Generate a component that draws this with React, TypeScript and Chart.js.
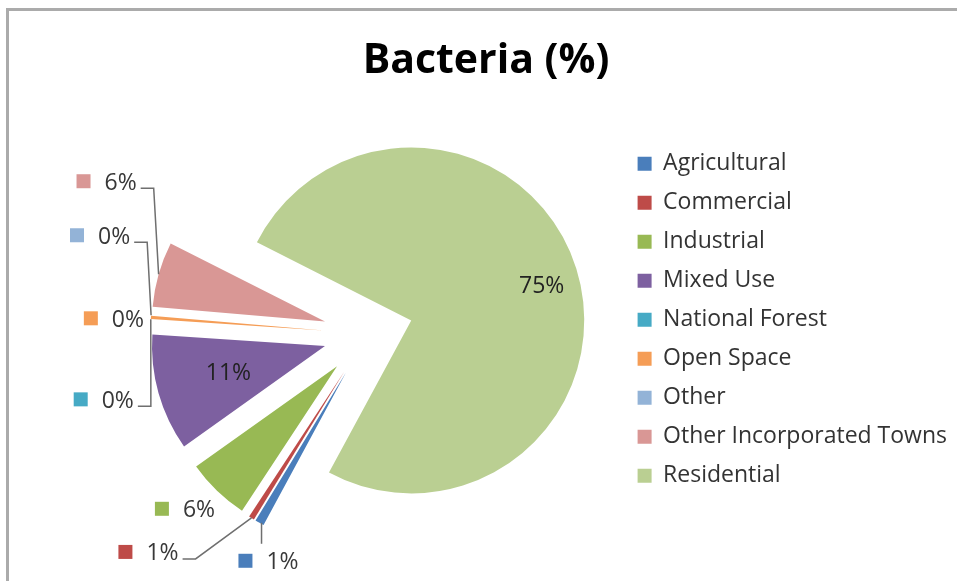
import React, { useEffect, useRef } from 'react';
import { Chart, registerables, layouts } from 'chart.js';

Chart.register(...registerables);

// ---------- data ----------
const CATEGORIES = [
  'Agricultural',
  'Commercial',
  'Industrial',
  'Mixed Use',
  'National Forest',
  'Open Space',
  'Other',
  'Other Incorporated Towns',
  'Residential',
];
const BACTERIA_PCT = [0.85, 0.52, 5.9, 10.9, 0, 0.3, 0, 6.1, 75.43];
const TITLE = 'Bacteria (%)';

// ---------- styles ----------
const COLORS = [
  '#4A7EBB',
  '#BE4B48',
  '#98B954',
  '#7D60A0',
  '#46AAC5',
  '#F59D56',
  '#93B3D7',
  '#D99795',
  '#BACF92',
];
const FONT = '"Open Sans", "Liberation Sans", sans-serif';
const RADIUS = 173;
const EXPLODE = 45;
const ROTATION = 208.4;
const SPACER_WIDTH = 100;
const KEY = 14;
const KEY_GAP = 14;
// label placement per slice (inside: fraction of radius from exploded apex;
// outside: offset of label group centre from slice outer midpoint)
const LABEL_LAYOUT: any[] = [
  { mode: 'outside', dx: 9, dy: 39, leader: 'top' },
  { mode: 'outside', dx: -103, dy: 35, leader: 'right' },
  { mode: 'outside', dx: -32, dy: 19, leader: 'none' },
  { mode: 'inside', r: 0.58, dy: 0 },
  { mode: 'outside', dx: -47, dy: 81, leader: 'right' },
  { mode: 'outside', dx: -37, dy: 2, leader: 'none' },
  { mode: 'outside', dx: -51, dy: -79, leader: 'right' },
  { mode: 'outside', dx: -52, dy: -92, leader: 'right' },
  { mode: 'inside', r: 0.79, dy: 7 },
];

const leftSpacer = {
  id: 'leftSpacer',
  beforeInit(chart: any) {
    const box: any = {
      position: 'left',
      weight: 0,
      fullSize: false,
      options: {},
      left: 0, top: 0, right: 0, bottom: 0, width: 0, height: 0,
      update(_mw: number, mh: number) {
        this.width = SPACER_WIDTH;
        this.height = mh;
      },
      isHorizontal() {
        return false;
      },
      draw() {},
    };
    layouts.addBox(chart, box);
  },
};

const explodePlugin = {
  id: 'explode',
  afterDatasetUpdate(chart: any, args: any) {
    const meta = chart.getDatasetMeta(args.index);
    meta.data.forEach((arc: any) => {
      const mid = (arc.startAngle + arc.endAngle) / 2;
      arc.x += Math.cos(mid) * EXPLODE;
      arc.y += Math.sin(mid) * EXPLODE;
    });
  },
};

const labelPlugin = {
  id: 'sliceLabels',
  afterDatasetsDraw(chart: any) {
    const meta = chart.getDatasetMeta(0);
    const ctx = chart.ctx;
    const total = BACTERIA_PCT.reduce((a, b) => a + b, 0);
    ctx.save();
    ctx.font = `23px ${FONT}`;
    ctx.textBaseline = 'middle';
    meta.data.forEach((arc: any, i: number) => {
      const { x, y, startAngle, endAngle, outerRadius } = arc;
      const mid = (startAngle + endAngle) / 2;
      const c = Math.cos(mid);
      const s = Math.sin(mid);
      const text = Math.round((BACTERIA_PCT[i] * 100) / total) + '%';
      const lay = LABEL_LAYOUT[i];
      if (lay.mode === 'inside') {
        ctx.fillStyle = '#222222';
        ctx.textAlign = 'center';
        ctx.fillText(text, x + c * outerRadius * lay.r, y + s * outerRadius * lay.r + lay.dy);
        return;
      }
      const ax = x + c * outerRadius;
      const ay = y + s * outerRadius;
      const cx = ax + lay.dx;
      const cy = ay + lay.dy;
      const tw = ctx.measureText(text).width;
      const gw = KEY + KEY_GAP + tw;
      const left = cx - gw / 2;
      ctx.strokeStyle = '#6f6f6f';
      ctx.lineWidth = 1.5;
      if (lay.leader === 'right') {
        const sx = left + gw + 4;
        const sy = cy + 6;
        ctx.beginPath();
        ctx.moveTo(sx, sy);
        ctx.lineTo(sx + 13, sy);
        ctx.lineTo(ax, ay);
        ctx.stroke();
      } else if (lay.leader === 'top') {
        ctx.beginPath();
        ctx.moveTo(ax + 2, cy - 18);
        ctx.lineTo(ax + 2, ay);
        ctx.stroke();
      }
      ctx.fillStyle = COLORS[i];
      ctx.fillRect(left, cy - KEY / 2 - 1, KEY, KEY);
      ctx.fillStyle = '#383838';
      ctx.textAlign = 'left';
      ctx.fillText(text, left + KEY + KEY_GAP, cy + 1);
    });
    ctx.restore();
  },
};

export default function App() {
  const ref = useRef<HTMLCanvasElement | null>(null);
  useEffect(() => {
    if (!ref.current) return;
    const chart = new Chart(ref.current, {
      type: 'pie',
      data: {
        labels: CATEGORIES,
        datasets: [
          {
            data: BACTERIA_PCT,
            backgroundColor: COLORS,
            borderWidth: 0,
          },
        ],
      },
      options: {
        responsive: false,
        animation: false,
        devicePixelRatio: 1,
        events: [],
        radius: RADIUS,
        rotation: ROTATION,
        layout: { padding: { left: 15, right: 0, top: 0, bottom: 49.5 } },
        plugins: {
          title: {
            display: true,
            text: TITLE,
            color: '#000000',
            font: { family: FONT, size: 41, weight: 'bold', lineHeight: 1.2 },
            padding: { top: 37, bottom: 50 },
          },
          legend: {
            position: 'right',
            align: 'start',
            fullSize: false,
            maxWidth: 420,
            labels: {
              boxWidth: KEY,
              boxHeight: KEY,
              padding: 16,
              color: '#333333',
              font: { family: FONT, size: 23 },
            },
          },
          tooltip: { enabled: false },
        },
      } as any,
      plugins: [leftSpacer, explodePlugin, labelPlugin],
    });
    return () => chart.destroy();
  }, []);

  return (
    <div
      style={{
        position: 'absolute',
        left: 0,
        top: 0,
        width: 957,
        height: 581,
        overflow: 'hidden',
        background: '#ffffff',
      }}
    >
      <div
        style={{
          position: 'absolute',
          left: 6,
          top: 8,
          right: 0,
          bottom: 0,
          borderTop: '3px solid #ababab',
          borderLeft: '3px solid #ababab',
        }}
      />
      <canvas
        ref={ref}
        width={957}
        height={581}
        style={{ position: 'absolute', left: 0, top: 0, width: 957, height: 581 }}
      />
    </div>
  );
}
